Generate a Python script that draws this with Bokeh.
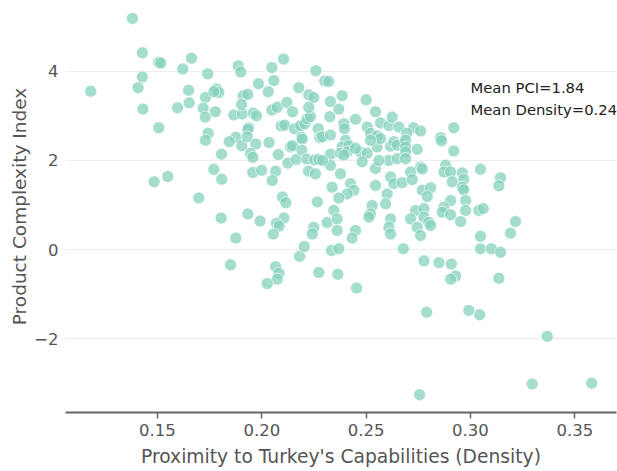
from bokeh.plotting import figure
from bokeh.models import ColumnDataSource, FixedTicker, NumeralTickFormatter, Label, Range1d
from bokeh.embed import file_html
from bokeh.resources import INLINE

# Density (proximity to Turkey's capabilities) and PCI for each product
density = [
    0.118, 0.138, 0.1427, 0.1427, 0.1407, 0.143, 0.1506, 0.1516, 0.1506, 0.1484,
    0.1549, 0.1621, 0.1663, 0.1649, 0.1652, 0.1596, 0.1698, 0.1741, 0.1730, 0.1783,
    0.1794, 0.1770, 0.1719, 0.1729, 0.1777, 0.1743, 0.1730, 0.1807, 0.1770, 0.1808,
    0.1805, 0.1887, 0.1899, 0.1866, 0.1907, 0.1911, 0.1933, 0.1938, 0.1933, 0.1875,
    0.1844, 0.1904, 0.1930, 0.1971, 0.1946, 0.1957, 0.1957, 0.1999, 0.1933, 0.1992,
    0.1875, 0.1959, 0.1975, 0.1984, 0.1850, 0.2031, 0.2048, 0.2058, 0.2104, 0.2048,
    0.2074, 0.2120, 0.2147, 0.2177, 0.2093, 0.2110, 0.2035, 0.2079, 0.2125, 0.2138,
    0.2147, 0.2066, 0.2050, 0.2099, 0.2115, 0.2106, 0.2070, 0.2083, 0.2055, 0.2157,
    0.2186, 0.2206, 0.2218, 0.2233, 0.2190, 0.2194, 0.2165, 0.2192, 0.2225, 0.2249,
    0.2225, 0.2259, 0.2216, 0.2253, 0.2273, 0.2224, 0.2266, 0.2249, 0.2242, 0.2270,
    0.2278, 0.2066, 0.2082, 0.2074, 0.2026, 0.2181, 0.2203, 0.2273, 0.2302, 0.2321,
    0.2385, 0.2329, 0.2369, 0.2500, 0.2545, 0.2326, 0.2393, 0.2396, 0.2449, 0.2290,
    0.2329, 0.2401, 0.2385, 0.2417, 0.2505, 0.2521, 0.2553, 0.2569, 0.2609, 0.2625,
    0.2657, 0.2553, 0.2569, 0.2617, 0.2633, 0.2329, 0.2377, 0.2409, 0.2393, 0.2473,
    0.2505, 0.2481, 0.2609, 0.2649, 0.2257, 0.2329, 0.2377, 0.2545, 0.2617, 0.2633,
    0.2337, 0.2425, 0.2441, 0.2409, 0.2369, 0.2345, 0.2529, 0.2521, 0.2601, 0.2593,
    0.2545, 0.2313, 0.2361, 0.2361, 0.2449, 0.2433, 0.2513, 0.2617, 0.2609, 0.2617,
    0.2334, 0.2369, 0.2364, 0.2454, 0.2561, 0.2673, 0.2291, 0.1903, 0.2449, 0.2521,
    0.2681, 0.2649, 0.2727, 0.2761, 0.2694, 0.2689, 0.2689, 0.2689, 0.2689, 0.2745,
    0.2857, 0.2861, 0.2920, 0.2920, 0.2761, 0.2769, 0.2713, 0.2721, 0.2881, 0.2873,
    0.2905, 0.2913, 0.2961, 0.2968, 0.2961, 0.2968, 0.3048, 0.3144, 0.3136, 0.2769,
    0.2809, 0.2793, 0.2905, 0.2737, 0.2777, 0.2713, 0.2745, 0.2777, 0.2801, 0.2809,
    0.2761, 0.2872, 0.2865, 0.2905, 0.2977, 0.2977, 0.2953, 0.3040, 0.3061, 0.3048,
    0.2678, 0.3048, 0.3100, 0.3144, 0.3216, 0.3192, 0.2777, 0.2849, 0.2908, 0.2929,
    0.2905, 0.3136, 0.2790, 0.2992, 0.3044, 0.3368, 0.3296, 0.3581, 0.2756,
]
pci = [
    3.55, 5.18, 4.41, 3.87, 3.63, 3.15, 4.20, 4.18, 2.73, 1.52,
    1.64, 4.05, 4.29, 3.57, 3.29, 3.18, 1.16, 3.94, 3.41, 3.60,
    3.52, 3.54, 3.17, 2.97, 3.09, 2.61, 2.45, 2.14, 1.80, 1.58,
    0.71, 4.12, 3.98, 3.02, 3.04, 3.45, 3.48, 2.73, 2.70, 2.52,
    2.42, 2.33, 2.53, 2.37, 2.16, 2.07, 1.73, 1.78, 0.80, 0.64,
    0.26, 3.06, 3.00, 3.72, -0.34, 3.54, 4.08, 3.79, 4.27, 3.13,
    3.19, 3.30, 3.09, 3.63, 2.77, 2.79, 2.40, 2.13, 1.94, 2.30,
    2.33, 1.76, 1.55, 1.18, 1.05, 0.71, 0.59, 0.53, 0.35, 2.71,
    2.78, 2.82, 2.93, 2.98, 2.52, 2.48, 2.02, 2.23, 3.47, 3.41,
    3.19, 4.01, 2.03, 2.01, 2.02, 1.76, 1.07, 0.50, 0.35, 2.71,
    2.51, -0.38, -0.53, -0.66, -0.76, -0.15, 0.07, -0.51, 3.78, 3.77,
    3.45, 3.32, 3.15, 3.36, 3.09, 2.98, 2.82, 2.71, 2.92, 2.53,
    2.57, 2.45, 2.30, 2.33, 2.75, 2.61, 2.55, 2.84, 2.78, 2.97,
    2.75, 2.30, 2.49, 2.32, 2.42, 2.14, 2.16, 2.19, 2.12, 2.19,
    2.16, 1.97, 2.00, 2.04, 1.70, 1.89, 1.70, 1.82, 1.63, 1.48,
    1.40, 1.48, 1.33, 1.25, 1.16, 0.88, 0.99, 0.80, 1.25, 1.03,
    1.44, 0.61, 0.69, 0.43, 0.43, 0.26, 0.73, 0.69, 0.50, 0.35,
    -0.02, 0.02, -0.55, -0.86, 2.00, 1.50, 2.00, 3.25, 2.27, 2.45,
    2.38, 2.34, 2.73, 2.66, 2.61, 2.45, 2.30, 2.19, 2.04, 2.25,
    2.51, 2.44, 2.73, 2.21, 1.85, 1.81, 1.74, 1.57, 1.89, 1.74,
    1.74, 1.52, 1.72, 1.57, 1.40, 1.34, 1.80, 1.61, 1.43, 1.33,
    1.39, 1.19, 1.10, 0.88, 0.92, 0.69, 0.50, 0.73, 0.61, 0.54,
    0.32, 0.95, 0.84, 0.78, 1.10, 0.88, 0.63, 0.88, 0.92, 0.30,
    0.02, 0.02, 0.02, -0.06, 0.63, 0.37, -0.25, -0.29, -0.32, -0.59,
    -0.66, -0.64, -1.40, -1.36, -1.46, -1.94, -3.01, -2.99, -3.25,
]

mean_pci = 1.84
mean_density = 0.24

x_ticks = [0.15, 0.20, 0.25, 0.30, 0.35]
y_ticks = [-2, 0, 2, 4]
y_tick_labels = {-2: "\u22122", 0: "0", 2: "2", 4: "4"}

FONT = "DejaVu Sans"
TICK_COLOR = "#555555"

p = figure(
    width=617, height=471,
    output_backend="svg", toolbar_location=None,
    x_range=Range1d(0.10591, 0.36999), y_range=Range1d(-3.648, 5.583),
    min_border_left=65, min_border_right=1, min_border_top=0, min_border_bottom=59,
)
p.outline_line_color = None
p.background_fill_color = "white"
p.border_fill_color = "white"

src = ColumnDataSource(dict(x=density, y=pci))
p.scatter("x", "y", source=src, size=12, fill_color="#86d1bd", fill_alpha=0.75,
          line_color="white", line_width=0.8, line_alpha=0.8)

# grid
p.xgrid.grid_line_color = None
p.ygrid.grid_line_color = "#ececec"
p.ygrid.grid_line_width = 1

# x axis
xa = p.xaxis[0]
xa.ticker = FixedTicker(ticks=x_ticks)
xa.formatter = NumeralTickFormatter(format="0.00")
xa.axis_line_color = "#666666"
xa.axis_line_width = 2
xa.major_tick_line_color = "#666666"
xa.major_tick_line_width = 1.5
xa.major_tick_out = 6
xa.major_tick_in = 0
xa.minor_tick_line_color = None
xa.major_label_text_font = FONT
xa.major_label_text_font_size = "16.5px"
xa.major_label_text_color = TICK_COLOR
xa.major_label_standoff = 5
xa.axis_label = "Proximity to Turkey's Capabilities (Density)"
xa.axis_label_text_font = FONT
xa.axis_label_text_font_size = "18.7px"
xa.axis_label_text_font_style = "normal"
xa.axis_label_text_color = TICK_COLOR
xa.axis_label_standoff = 7

# y axis
ya = p.yaxis[0]
ya.ticker = FixedTicker(ticks=y_ticks)
ya.major_label_overrides = y_tick_labels
ya.axis_line_color = None
ya.major_tick_line_color = None
ya.minor_tick_line_color = None
ya.major_tick_out = 0
ya.major_tick_in = 0
ya.major_label_text_font = FONT
ya.major_label_text_font_size = "16.5px"
ya.major_label_text_color = TICK_COLOR
ya.major_label_standoff = 7
ya.axis_label = "Product Complexity Index"
ya.axis_label_text_font = FONT
ya.axis_label_text_font_size = "18.5px"
ya.axis_label_text_font_style = "normal"
ya.axis_label_text_color = TICK_COLOR
ya.axis_label_standoff = 1

# annotation
p.add_layout(Label(x=0.30, y=3.63, text=f"Mean PCI={mean_pci:.2f}", text_font=FONT,
                   text_font_size="14.8px", text_color="#222222", text_baseline="middle"))
p.add_layout(Label(x=0.30, y=3.13, text=f"Mean Density={mean_density:.2f}", text_font=FONT,
                   text_font_size="14.8px", text_color="#222222", text_baseline="middle"))

open("out.html", "w").write(file_html(p, INLINE))
